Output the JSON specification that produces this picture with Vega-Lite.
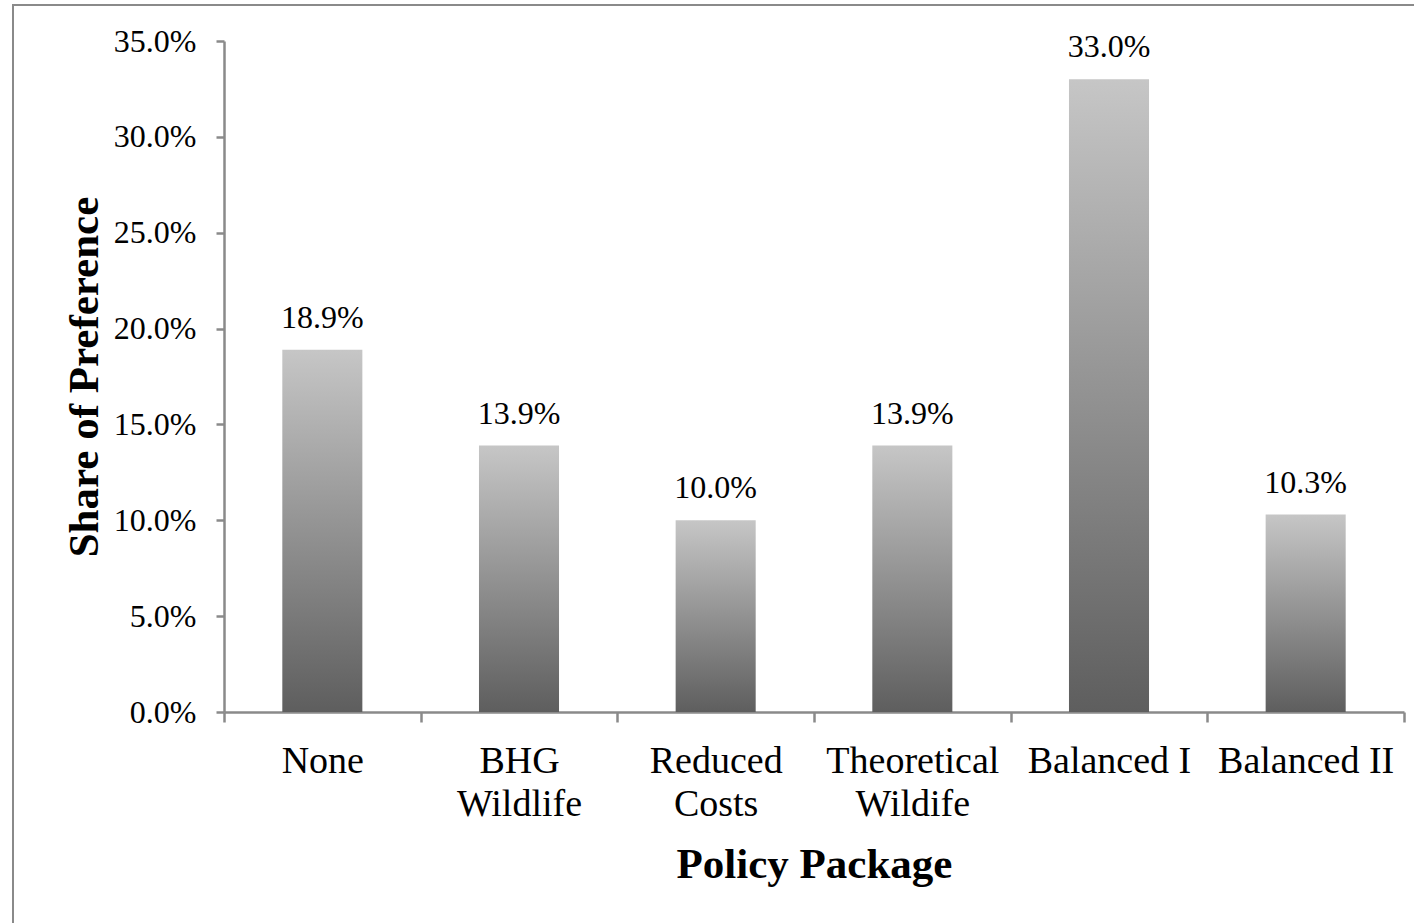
{
  "$schema": "https://vega.github.io/schema/vega-lite/v6.json",
  "width": 1410,
  "height": 930,
  "autosize": {"type": "none"},
  "padding": {"left": 13, "top": 5, "right": 0, "bottom": 0},
  "background": "white",
  "config": {
    "view": {"stroke": "#8a8a8a", "strokeWidth": 2},
    "font": "Liberation Serif",
    "axis": {
      "grid": false,
      "domainColor": "#8a8a8a",
      "domainWidth": 2.5,
      "tickColor": "#8a8a8a",
      "tickWidth": 2.5,
      "labelColor": "black",
      "titleColor": "black",
      "labelFont": "Liberation Serif",
      "titleFont": "Liberation Serif",
      "titleFontWeight": "bold"
    }
  },
  "data": {
    "values": [
      {"package": "None", "share": 0.189},
      {"package": "BHG|Wildlife", "share": 0.139},
      {"package": "Reduced|Costs", "share": 0.100},
      {"package": "Theoretical|Wildife", "share": 0.139},
      {"package": "Balanced I", "share": 0.330},
      {"package": "Balanced II", "share": 0.103}
    ]
  },
  "encoding": {
    "x": {
      "field": "package",
      "type": "nominal",
      "sort": null,
      "scale": {"range": [211, 1391], "paddingInner": 0, "paddingOuter": 0},
      "axis": {
        "orient": "bottom",
        "offset": -223,
        "tickBand": "extent",
        "tickSize": 10,
        "labelAngle": 0,
        "labelPadding": 20,
        "labelFontSize": 38,
        "labelLineHeight": 43,
        "labelLimit": 0,
        "labelExpr": "split(datum.label, '|')",
        "title": "Policy Package",
        "titleFontSize": 43,
        "titleBaseline": "alphabetic",
        "titleY": 165
      }
    },
    "y": {
      "field": "share",
      "type": "quantitative",
      "scale": {"domain": [0, 0.35], "range": [707, 36], "nice": false},
      "axis": {
        "orient": "left",
        "offset": -211,
        "values": [0, 0.05, 0.1, 0.15, 0.2, 0.25, 0.3, 0.35],
        "format": ".1%",
        "tickSize": 8,
        "labelPadding": 20,
        "labelFontSize": 32,
        "title": "Share of Preference",
        "titleFontSize": 43,
        "titleBaseline": "alphabetic",
        "titleX": -127
      }
    }
  },
  "layer": [
    {
      "mark": {
        "type": "bar",
        "width": {"band": 0.407},
        "color": {
          "gradient": "linear",
          "x1": 0, "y1": 0, "x2": 0, "y2": 1,
          "stops": [
            {"offset": 0, "color": "#c6c6c6"},
            {"offset": 1, "color": "#5e5e5e"}
          ]
        }
      }
    },
    {
      "mark": {
        "type": "text",
        "baseline": "alphabetic",
        "dy": -22,
        "fontSize": 32,
        "font": "Liberation Serif",
        "color": "black"
      },
      "encoding": {
        "text": {"field": "share", "type": "quantitative", "format": ".1%"}
      }
    }
  ]
}
